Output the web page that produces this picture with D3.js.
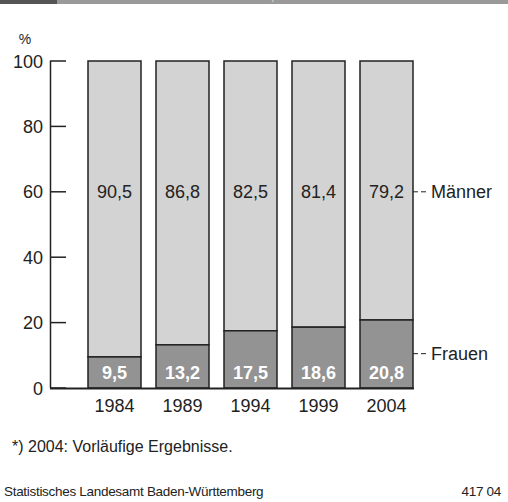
<!DOCTYPE html>
<html>
<head>
<meta charset="utf-8">
<script src="https://cdn.jsdelivr.net/npm/d3@7"></script>
<style>
	body { margin: 0; background: #fff; }
	svg { display: block; font-family: "Liberation Sans", Arial, sans-serif; }
</style>
</head>
<body>
<div id="chart"></div>
<script>

//------------------------------------------------------------------------------
// Data

var years   = ['1984', '1989', '1994', '1999', '2004'];
var frauen  = [9.5, 13.2, 17.5, 18.6, 20.8];
var maenner = [90.5, 86.8, 82.5, 81.4, 79.2];
var yTicks  = [0, 20, 40, 60, 80, 100];
var series  = ['Männer', 'Frauen'];

var fmt = function (v) { return d3.format('.1f')(v).replace('.', ','); };

//------------------------------------------------------------------------------
// Layout

var W = 508, H = 502;
var svg = d3.select('#chart').append('svg').attr('width', W).attr('height', H);

// header strip (title cut off above the picture)
svg.append('rect').attr('x', 0).attr('y', 0).attr('width', W).attr('height', 4).attr('fill', '#999');
svg.append('rect').attr('x', 0).attr('y', 0).attr('width', 57).attr('height', 4).attr('fill', '#555');
svg.append('text').attr('x', 272).attr('y', 1).attr('fill', '#fff')
	.style('font-size', '5px').text(')');

var x = d3.scaleBand().domain(years).range([71, 430]).paddingInner(15 / 68).paddingOuter(0.25);
var y = d3.scaleLinear().domain([0, 100]).range([388, 61]);

//------------------------------------------------------------------------------
// Axis

var axis = svg.append('g');
axis.append('line')
	.attr('x1', 50.5).attr('x2', 50.5).attr('y1', y(100)).attr('y2', y(0))
	.attr('stroke', '#222').attr('stroke-width', 1.5);
axis.selectAll('.tick').data(yTicks).enter().append('line')
	.attr('x1', 50).attr('x2', 66)
	.attr('y1', function (d) { return y(d); }).attr('y2', function (d) { return y(d); })
	.attr('stroke', '#222').attr('stroke-width', 1.5);
axis.selectAll('.lab').data(yTicks).enter().append('text')
	.attr('x', 43).attr('y', function (d) { return y(d) + 6.5; })
	.attr('text-anchor', 'end').attr('fill', '#222')
	.style('font-size', '18px').text(function (d) { return d; });
axis.append('text').attr('x', 25).attr('y', 44).attr('text-anchor', 'middle')
	.attr('fill', '#222').style('font-size', '14px').text('%');

//------------------------------------------------------------------------------
// Bars

var rows = years.map(function (yr, i) { return { year: yr, f: frauen[i], m: maenner[i] }; });

var bars = svg.append('g').selectAll('g').data(rows).enter().append('g');
bars.append('rect')
	.attr('x', function (d) { return x(d.year); }).attr('width', x.bandwidth())
	.attr('y', function (d) { return y(d.f + d.m); })
	.attr('height', function (d) { return y(d.f) - y(d.f + d.m); })
	.attr('fill', '#d3d3d3').attr('stroke', '#222').attr('stroke-width', 1.5);
bars.append('rect')
	.attr('x', function (d) { return x(d.year); }).attr('width', x.bandwidth())
	.attr('y', function (d) { return y(d.f); })
	.attr('height', function (d) { return y(0) - y(d.f); })
	.attr('fill', '#939393').attr('stroke', '#222').attr('stroke-width', 1.5);

bars.append('text')
	.attr('x', function (d) { return x(d.year) + x.bandwidth() / 2; })
	.attr('y', y(60) + 6)
	.attr('text-anchor', 'middle').attr('fill', '#222').style('font-size', '18px')
	.text(function (d) { return fmt(d.m); });
bars.append('text')
	.attr('x', function (d) { return x(d.year) + x.bandwidth() / 2; })
	.attr('y', y(0) - 9)
	.attr('text-anchor', 'middle').attr('fill', '#fff')
	.style('font-size', '18px').style('font-weight', 'bold')
	.text(function (d) { return fmt(d.f); });
bars.append('text')
	.attr('x', function (d) { return x(d.year) + x.bandwidth() / 2; })
	.attr('y', 412)
	.attr('text-anchor', 'middle').attr('fill', '#222').style('font-size', '18px')
	.text(function (d) { return d.year; });

// baseline
svg.append('line')
	.attr('x1', 50).attr('x2', x(years[4]) + x.bandwidth() + 1)
	.attr('y1', y(0) + 0.5).attr('y2', y(0) + 0.5)
	.attr('stroke', '#222').attr('stroke-width', 2);

//------------------------------------------------------------------------------
// Legend

var legendY = [y(60), y(10.5)];
var lx = x(years[4]) + x.bandwidth();
var legend = svg.append('g').selectAll('g').data(series).enter().append('g');
legend.append('line')
	.attr('x1', lx).attr('x2', lx + 14)
	.attr('y1', function (d, i) { return legendY[i]; })
	.attr('y2', function (d, i) { return legendY[i]; })
	.attr('stroke', '#222').attr('stroke-width', 1).attr('stroke-dasharray', '5,3');
legend.append('text')
	.attr('x', lx + 18).attr('y', function (d, i) { return legendY[i] + 6.5; })
	.attr('fill', '#222').style('font-size', '18px').text(function (d) { return d; });

//------------------------------------------------------------------------------
// Notes

svg.append('text').attr('x', 12).attr('y', 452).attr('fill', '#222')
	.style('font-size', '16px').text('*) 2004: Vorläufige Ergebnisse.');
svg.append('text').attr('x', 4).attr('y', 496).attr('fill', '#222')
	.style('font-size', '13.5px').style('letter-spacing', '-0.3px')
	.text('Statistisches Landesamt Baden-Württemberg');
svg.append('text').attr('x', 501).attr('y', 496).attr('text-anchor', 'end').attr('fill', '#222')
	.style('font-size', '13.5px').style('letter-spacing', '-0.3px').text('417 04');

</script>
</body>
</html>
